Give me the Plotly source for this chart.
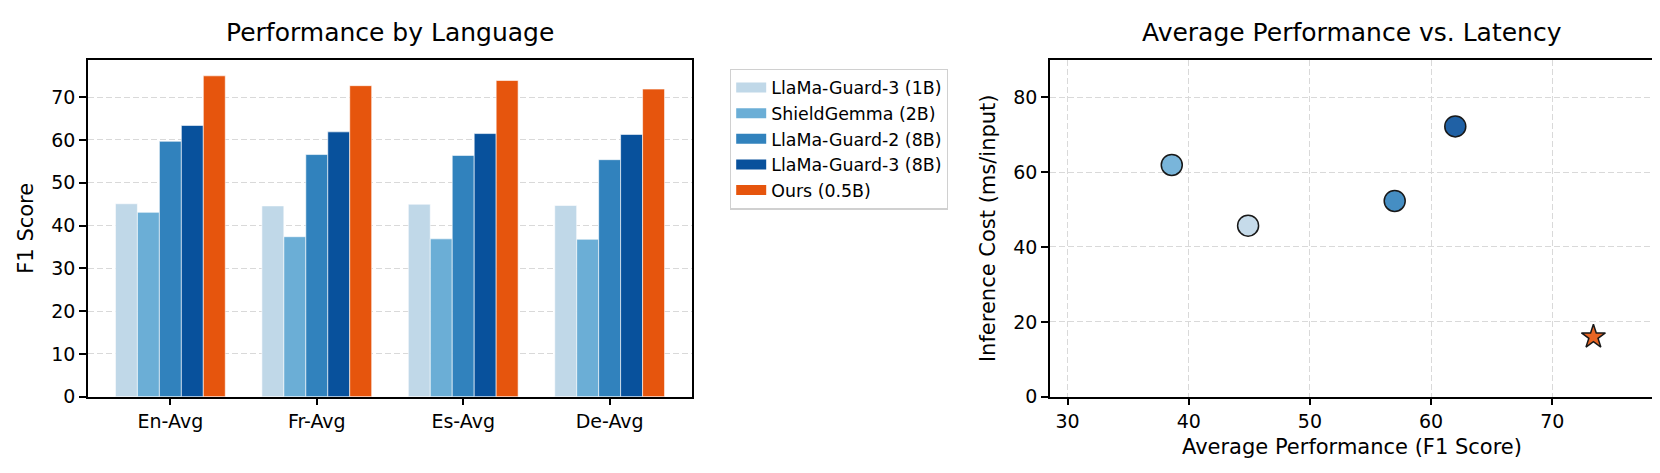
import plotly.graph_objects as go

# ---------------- data ----------------
languages = ["En-Avg", "Fr-Avg", "Es-Avg", "De-Avg"]
models = ["LlaMa-Guard-3 (1B)", "ShieldGemma (2B)", "LlaMa-Guard-2 (8B)",
          "LlaMa-Guard-3 (8B)", "Ours (0.5B)"]
lg3_1b_scores = [45.1, 44.6, 45.0, 44.7]
shieldgemma_scores = [43.1, 37.4, 36.9, 36.8]
lg2_8b_scores = [59.7, 56.6, 56.4, 55.4]
lg3_8b_scores = [63.4, 61.9, 61.5, 61.3]
ours_scores = [75.0, 72.7, 73.9, 71.9]
avg_performance = [44.9, 38.6, 57.0, 62.0, 73.4]
latency_ms = [45.7, 61.9, 52.3, 72.2, 16.0]
bar_y_ticks = [0, 10, 20, 30, 40, 50, 60, 70]
scatter_x_ticks = [30, 40, 50, 60, 70]
scatter_y_ticks = [0, 20, 40, 60, 80]

colors = ["#c0d8e8", "#6baed6", "#3182bd", "#08519c", "#e6550d"]
series = [lg3_1b_scores, shieldgemma_scores, lg2_8b_scores, lg3_8b_scores, ours_scores]

FONT = "DejaVu Sans"
W, H = 1660, 473

fig = go.Figure()

# bars
for name, vals, col in zip(models, series, colors):
    fig.add_trace(go.Bar(
        x=languages, y=vals, name=name, marker=dict(color=col, line=dict(color="white", width=0.6)),
        xaxis="x", yaxis="y", showlegend=False,
    ))

# legend proxies (patch-like entries)
for name, col in zip(models, colors):
    fig.add_trace(go.Scatter(
        x=[None], y=[None], mode="lines", name=name,
        line=dict(color=col, width=12), xaxis="x", yaxis="y", showlegend=True,
    ))

# scatter
for i, (name, px_, py_, col) in enumerate(zip(models, avg_performance, latency_ms, colors)):
    is_ours = i == len(models) - 1
    fig.add_trace(go.Scatter(
        x=[px_], y=[py_], mode="markers", name=name, showlegend=False,
        xaxis="x2", yaxis="y2",
        marker=dict(
            color=col, opacity=0.9,
            symbol="star" if is_ours else "circle",
            size=18 if is_ours else 21,
            line=dict(color="black", width=1.5),
        ),
    ))

ax_left = (80 / W, 684 / W)
ax_right = (1042 / W, 1646 / W)
ydom = (1 - 398 / H, 1 - 53 / H)

tickfont = dict(family=FONT, size=19, color="black")
labfont = dict(family=FONT, size=21, color="black")
common = dict(showline=True, linecolor="black", linewidth=1.5, mirror=True,
              ticks="outside", ticklen=7, tickwidth=1.5, tickcolor="black",
              tickfont=tickfont, zeroline=False)
grid = dict(showgrid=True, gridcolor="#d9d9d9", gridwidth=1.4, griddash="6px,3px")

fig.update_layout(
    width=W, height=H,
    margin=dict(l=0, r=0, t=0, b=0),
    paper_bgcolor="white", plot_bgcolor="white",
    font=dict(family=FONT, color="black"),
    barmode="group", bargap=0.25, bargroupgap=0.0,
    xaxis=dict(domain=ax_left, anchor="y", range=[-0.5625, 3.5625], showgrid=False,
               type="category", **common),
    yaxis=dict(domain=ydom, anchor="x", range=[0, 78.75], tickvals=bar_y_ticks,
               title=dict(text="F1 Score", font=labfont, standoff=12), **grid, **common),
    xaxis2=dict(domain=ax_right, anchor="y2", range=[28.55, 78.4], tickvals=scatter_x_ticks,
                title=dict(text="Average Performance (F1 Score)", font=labfont, standoff=8),
                **grid, **common),
    yaxis2=dict(domain=ydom, anchor="x2", range=[0, 90], tickvals=scatter_y_ticks,
                title=dict(text="Inference Cost (ms/input)", font=labfont, standoff=12),
                **grid, **common),
    legend=dict(x=722 / W, y=1 - 62 / H, xanchor="left", yanchor="top",
                bgcolor="white", bordercolor="#d0d0d0", borderwidth=1.2,
                font=dict(family=FONT, size=17.4, color="black"),
                itemwidth=30, tracegroupgap=0),
    annotations=[
        dict(text="Performance by Language", x=(ax_left[0] + ax_left[1]) / 2, y=1 - 25 / H,
             xref="paper", yref="paper", showarrow=False, xanchor="center", yanchor="middle",
             font=dict(family=FONT, size=25, color="black")),
        dict(text="Average Performance vs. Latency", x=(ax_right[0] + ax_right[1]) / 2, y=1 - 25 / H,
             xref="paper", yref="paper", showarrow=False, xanchor="center", yanchor="middle",
             font=dict(family=FONT, size=25, color="black")),
    ],
)

fig.write_html("out.html")
